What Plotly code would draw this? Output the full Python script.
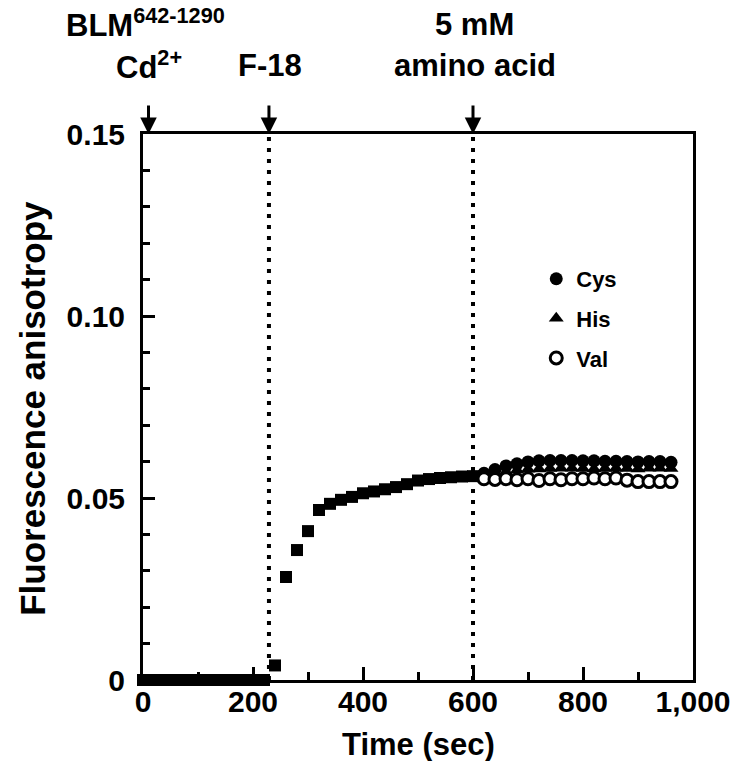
import plotly.graph_objects as go

# time points (sec) before amino acid addition, one every 20 sec
pre_time = [0, 20, 40, 60, 80, 100, 120, 140, 160, 180, 200, 220, 240, 260, 280, 300,
            320, 340, 360, 380, 400, 420, 440, 460, 480, 500, 520, 540, 560, 580, 600]
pre_anisotropy = [0, 0, 0, 0, 0, 0, 0, 0, 0, 0, 0, 0, 0.004, 0.0283, 0.0357, 0.0409,
                  0.0467, 0.0484, 0.0495, 0.0503, 0.0513, 0.0518, 0.0524, 0.0530, 0.0538,
                  0.0548, 0.0552, 0.0555, 0.0557, 0.0559, 0.0560]

# after 5 mM amino acid
post_time = [620, 640, 660, 680, 700, 720, 740, 760, 780, 800, 820, 840, 860, 880,
             900, 920, 940, 960]
cys = [0.0568, 0.0578, 0.0588, 0.0594, 0.0599, 0.0602, 0.0603, 0.0603, 0.0603, 0.0602,
       0.0602, 0.0601, 0.0601, 0.0600, 0.0599, 0.0600, 0.0600, 0.0598]
his = [0.0562, 0.0567, 0.0572, 0.0576, 0.0579, 0.0580, 0.0581, 0.0582, 0.0582, 0.0581,
       0.0580, 0.0581, 0.0582, 0.0581, 0.0580, 0.0582, 0.0582, 0.0581]
val = [0.0553, 0.0551, 0.0553, 0.0550, 0.0553, 0.0548, 0.0553, 0.0550, 0.0553, 0.0553,
       0.0555, 0.0553, 0.0555, 0.0549, 0.0545, 0.0545, 0.0545, 0.0545]

# additions marked with arrows on top
event_times = [10, 229, 600]
dotted_times = [229, 600]

x_ticks = [0, 200, 400, 600, 800, 1000]
x_tick_labels = ['0', '200', '400', '600', '800', '1,000']
y_ticks = [0, 0.05, 0.10, 0.15]
y_tick_labels = ['0', '0.05', '0.10', '0.15']

font_family = 'Arial'
W, H = 743, 761
L, R, T, B = 143, 46, 134, 81

# pixel position -> paper coords
def px(x):
    return (x - L) / (W - L - R)

def py(y):
    return 1 - (y - T) / (H - T - B)

fig = go.Figure()
fig.add_trace(go.Scatter(x=pre_time, y=pre_anisotropy, mode='markers', showlegend=False,
    marker=dict(symbol='square', size=12, color='black'), cliponaxis=False))
fig.add_trace(go.Scatter(x=post_time, y=cys, mode='markers', name='Cys', legendgroup='a',
    marker=dict(symbol='circle', size=13, color='black'), cliponaxis=False))
fig.add_trace(go.Scatter(x=post_time, y=his, mode='markers', name='His', legendgroup='b',
    marker=dict(symbol='triangle-up', size=13, color='black'), cliponaxis=False))
fig.add_trace(go.Scatter(x=post_time, y=val, mode='markers', name='Val', legendgroup='c',
    marker=dict(symbol='circle', size=12, color='white', line=dict(color='black', width=3)),
    cliponaxis=False))

for t in dotted_times:
    fig.add_shape(type='line', xref='x', yref='y', x0=t, x1=t, y0=0, y1=0.15,
        line=dict(color='black', width=4, dash='4px,7px'), layer='above')

for t in event_times:
    fig.add_annotation(x=t, y=0.15, xref='x', yref='y', text=' ', showarrow=True,
        ax=0, ay=-37, arrowhead=2, arrowsize=1.1, arrowwidth=3, arrowcolor='black')

top_labels = [
    ('BLM<sup>642-1290</sup>', 146, 23),
    ('Cd<sup>2+</sup>', 149, 65),
    ('F-18', 271, 65),
    ('5 mM', 477, 24),
    ('amino acid', 477, 65),
]
for txt, lx, ly in top_labels:
    fig.add_annotation(x=px(lx), y=py(ly), xref='paper', yref='paper',
        text=txt, showarrow=False, xanchor='center', yanchor='middle',
        font=dict(family=font_family, size=31, color='black', weight='bold'))

# axis titles
fig.add_annotation(x=px(421), y=py(744), xref='paper', yref='paper', text='Time (sec)',
    showarrow=False, xanchor='center', yanchor='middle',
    font=dict(family=font_family, size=31, color='black', weight='bold'))
fig.add_annotation(x=px(31), y=py(408), xref='paper', yref='paper',
    text='Fluorescence anisotropy', textangle=-90, showarrow=False,
    xanchor='center', yanchor='middle',
    font=dict(family=font_family, size=35, color='black', weight='bold'))

fig.update_xaxes(range=[0, 1000], tickvals=x_ticks, ticktext=x_tick_labels,
    showline=True, linewidth=3, linecolor='black', mirror=True, showgrid=False, zeroline=False,
    ticks='inside', ticklen=13, tickwidth=3, tickcolor='black', ticklabelstandoff=-7,
    minor=dict(dtick=100, ticks='inside', ticklen=8, tickwidth=3, tickcolor='black'),
    tickfont=dict(family=font_family, size=30, color='black', weight='bold'))
fig.update_yaxes(range=[0, 0.15], tickvals=y_ticks, ticktext=y_tick_labels,
    showline=True, linewidth=3, linecolor='black', mirror=True, showgrid=False, zeroline=False,
    ticks='inside', ticklen=12, tickwidth=3, tickcolor='black', ticklabelstandoff=9,
    minor=dict(dtick=0.01, ticks='inside', ticklen=7, tickwidth=3, tickcolor='black'),
    tickfont=dict(family=font_family, size=30, color='black', weight='bold'))

fig.update_layout(width=W, height=H, margin=dict(l=L, r=R, t=T, b=B),
    plot_bgcolor='white', paper_bgcolor='white',
    font=dict(family=font_family, color='black', weight='bold'),
    legend=dict(x=0.715, y=0.773, xanchor='left', yanchor='top', bgcolor='rgba(0,0,0,0)',
        traceorder='grouped', tracegroupgap=8, itemsizing='trace',
        font=dict(family=font_family, size=22, color='black', weight='bold')))

# drop the default page margin so the figure sits at the window corner
fig.write_html('out.html', config={'displayModeBar': False},
    post_script='document.body.style.margin="0";')
